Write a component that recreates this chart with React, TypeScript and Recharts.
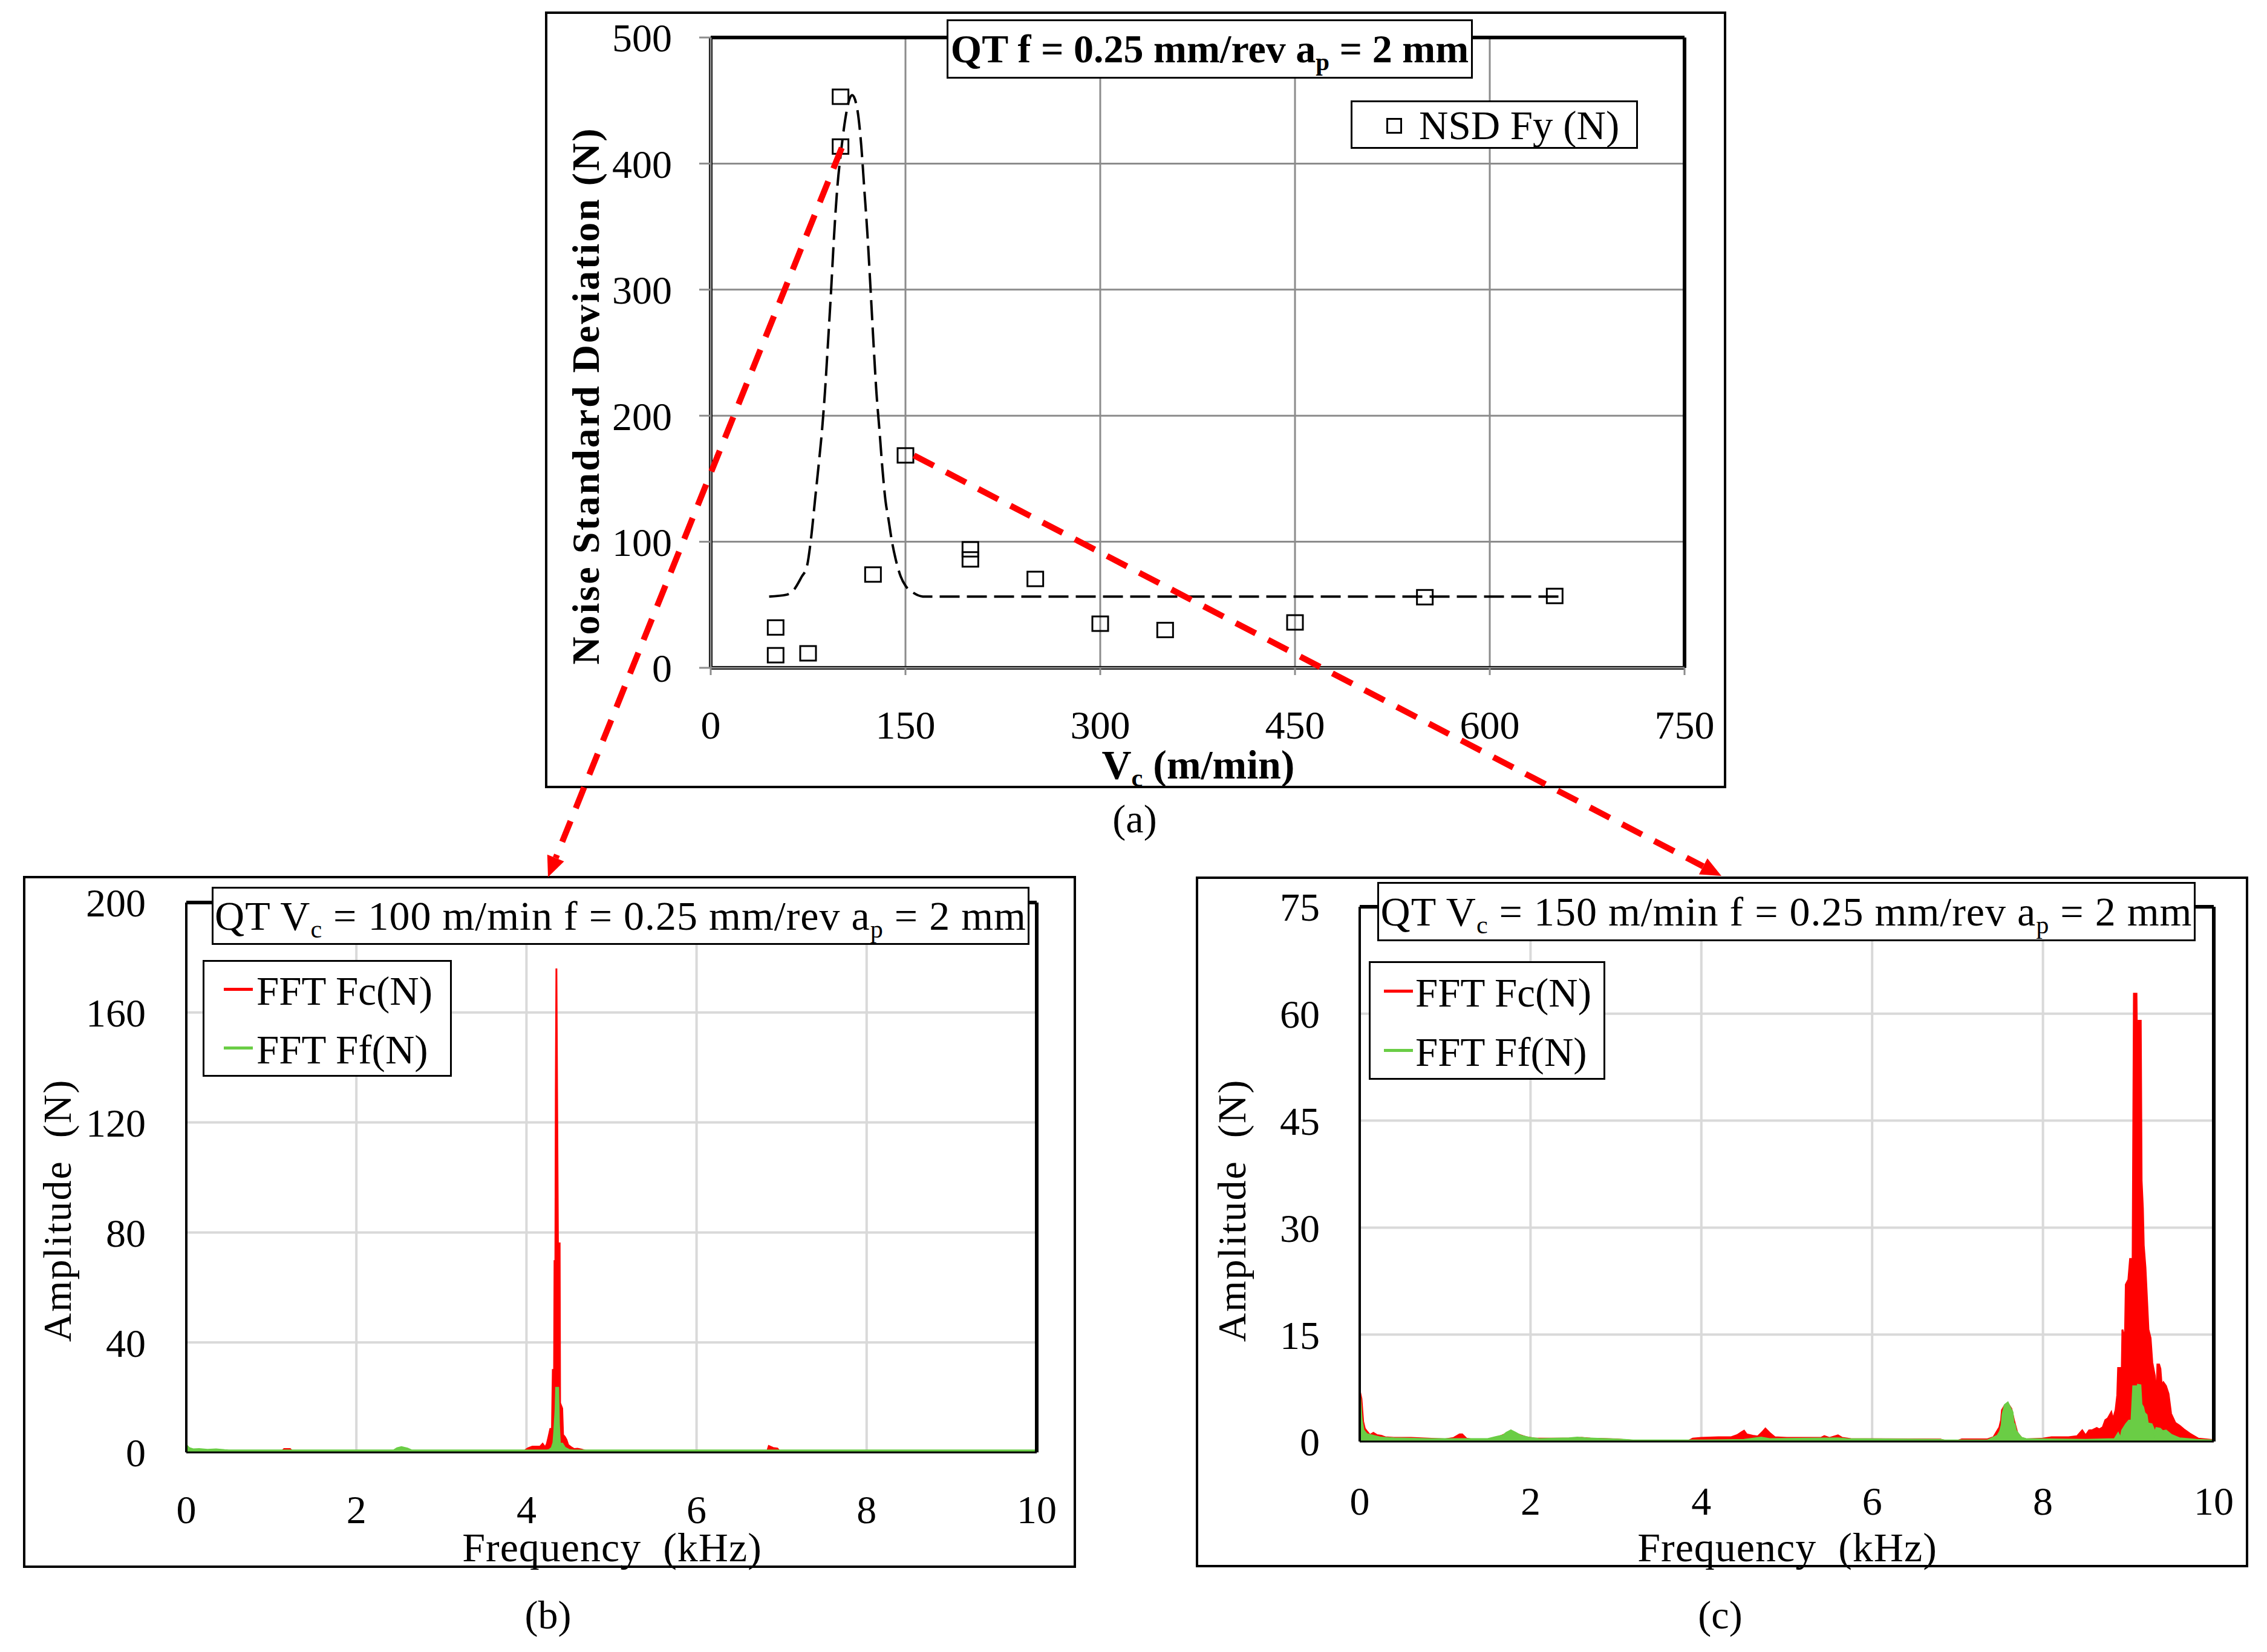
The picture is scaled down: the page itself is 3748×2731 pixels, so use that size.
import React from "react";
import {
  ComposedChart,
  Scatter,
  Line,
  Area,
  XAxis,
  YAxis,
  CartesianGrid,
  ReferenceLine,
} from "recharts";

const FONT = '"Liberation Serif", "Times New Roman", serif';
const RED = "#ff0000";
const GREEN = "#6acd45";

// (a) noise standard deviation of Fy vs cutting speed
const vcTicks = [0, 150, 300, 450, 600, 750];
const nsdTicks = [0, 100, 200, 300, 400, 500];
const nsdVc = [50, 50, 75, 100, 100, 125, 150, 200, 200, 250, 300, 350, 450, 550, 650];
const nsdFy = [32, 10, 11.5, 453, 413.5, 74, 168.5, 94, 86, 70.5, 35, 30, 36, 56, 57];
// dashed fit
const fitVc = [45, 58.5, 63.9, 70.2, 74, 77.2, 80.3, 83.4, 85.7, 88, 90.4, 92.7, 95, 97.4, 100.5, 103.6, 106.7, 109, 112.9, 116, 118.3, 120.6, 123, 125.3, 127.6, 130, 132.3, 134.6, 137, 139.3, 142.4, 146.3, 150.2, 156.4, 164.1, 250, 400, 550, 655];
const fitNsd = [56.5, 58, 61.7, 72.5, 80, 102, 132.7, 163.6, 188, 219, 259, 299, 342.6, 379.6, 410.5, 435, 450.6, 454.3, 443, 413.6, 379.6, 345.7, 302.5, 259, 219, 188, 157.4, 132.7, 117.3, 101.9, 86.4, 72.5, 64.8, 59.3, 56.5, 56.5, 56.5, 56.5, 56.5];

// (b) and (c) FFT spectra, [kHz, N]
const freqTicks = [0, 2, 4, 6, 8, 10];
const ampTicksB = [0, 40, 80, 120, 160, 200];
const ampTicksC = [0, 15, 30, 45, 60, 75];

const fcSpectrumB = [
  [0, 0.8], [0.03, 1.2], [0.1, 0.6], [0.2, 0.5], [0.3, 0.8], [0.4, 0.7], [0.5, 0.3],
  [1.12, 0.3], [1.15, 1.2], [1.22, 1.2], [1.25, 0.3], [3.97, 0.3], [3.99, 0.9], [4.02, 1.5],
  [4.07, 2.1], [4.16, 2.1], [4.19, 3.1], [4.22, 1.8], [4.24, 3.1], [4.26, 5.7], [4.28, 8.5],
  [4.3, 8.5], [4.31, 30], [4.325, 30], [4.33, 69.6], [4.34, 69.6], [4.345, 131], [4.352, 176],
  [4.36, 131], [4.37, 76], [4.39, 76], [4.395, 18], [4.42, 16], [4.43, 6.4], [4.45, 5.7],
  [4.47, 4.6], [4.49, 2.7], [4.52, 2.0], [4.56, 1.2], [4.6, 1.3], [4.65, 1.0], [4.7, 0.5],
  [4.75, 0.3], [6.83, 0.3], [6.85, 2.3], [6.9, 1.6], [6.95, 1.4], [6.98, 0.3], [10, 0.3],
];
const ffSpectrumB = [
  [0, 2.5], [0.03, 1.5], [0.08, 1.0], [0.15, 1.1], [0.25, 0.8], [0.35, 1.0], [0.45, 0.7],
  [0.5, 0.6], [2.44, 0.6], [2.48, 1.4], [2.53, 1.8], [2.6, 1.3], [2.65, 0.6], [4.24, 0.6],
  [4.27, 0.8], [4.3, 1.6], [4.32, 3.5], [4.33, 7.5], [4.345, 15.3], [4.352, 23.4], [4.37, 23.4],
  [4.378, 10.5], [4.39, 3.1], [4.42, 3.1], [4.45, 1.6], [4.5, 0.8], [4.55, 0.6], [10, 0.6],
];
const fcSpectrumC = [
  [0, 7.1], [0.02, 6.0], [0.04, 2.8], [0.06, 1.8], [0.08, 1.5], [0.12, 0.9], [0.16, 1.2],
  [0.2, 0.9], [0.25, 0.8], [0.3, 0.6], [0.4, 0.5], [0.6, 0.5], [0.8, 0.4], [1.0, 0.3],
  [1.1, 0.5], [1.17, 1.0], [1.2, 1.0], [1.25, 0.4], [1.3, 0.3], [1.5, 0.3], [1.6, 0.5],
  [1.7, 1.0], [1.77, 1.5], [1.85, 1.0], [1.95, 0.6], [2.05, 0.4], [2.5, 0.4], [2.6, 0.5],
  [2.7, 0.4], [3.0, 0.3], [3.2, 0.1], [3.85, 0.1], [3.9, 0.4], [4.0, 0.5], [4.2, 0.6],
  [4.35, 0.6], [4.42, 0.9], [4.47, 1.3], [4.5, 1.5], [4.53, 1.0], [4.6, 0.8], [4.66, 0.7],
  [4.72, 1.4], [4.75, 1.8], [4.8, 1.2], [4.86, 0.6], [5.0, 0.5], [5.4, 0.5], [5.44, 0.75],
  [5.5, 0.5], [5.6, 0.85], [5.65, 0.5], [5.75, 0.35], [6.8, 0.28], [6.85, 0.1], [7.0, 0.1],
  [7.05, 0.3], [7.35, 0.3], [7.42, 0.6], [7.46, 1.4], [7.49, 2.0], [7.51, 3.0], [7.52, 4.4],
  [7.55, 5.0], [7.59, 5.3], [7.63, 4.6], [7.66, 3.0], [7.7, 1.2], [7.75, 0.5], [7.8, 0.3],
  [8.0, 0.4], [8.1, 0.6], [8.3, 0.6], [8.4, 0.75], [8.44, 1.3], [8.46, 1.55], [8.5, 0.85],
  [8.54, 1.55], [8.58, 1.6], [8.63, 1.9], [8.66, 1.7], [8.7, 2.0], [8.73, 3.0], [8.76, 3.25],
  [8.8, 4.1], [8.82, 3.1], [8.85, 4.4], [8.87, 6.5], [8.88, 10.3], [8.91, 10.3], [8.92, 7.8],
  [8.93, 15.7], [8.96, 14.4], [8.97, 22], [9.0, 22.7], [9.02, 25.6], [9.05, 25.6],
  [9.065, 62.8], [9.095, 62.8], [9.105, 51.3], [9.115, 51.3], [9.12, 59], [9.145, 59],
  [9.155, 36.6], [9.17, 32.7], [9.18, 27.5], [9.2, 24.4], [9.22, 19.5], [9.235, 15.7],
  [9.26, 14.5], [9.28, 11.1], [9.31, 9.2], [9.33, 5.9], [9.34, 10.8], [9.36, 10.8],
  [9.375, 10.2], [9.39, 7.9], [9.41, 8.3], [9.44, 7.8], [9.47, 6.7], [9.5, 3.9], [9.55, 2.6],
  [9.6, 2.2], [9.65, 1.7], [9.72, 1.1], [9.82, 0.4], [10, 0.2],
];
const ffSpectrumC = [
  [0, 6.5], [0.02, 3.0], [0.04, 1.6], [0.08, 1.0], [0.15, 0.8], [0.25, 0.5], [0.4, 0.4],
  [0.8, 0.3], [1.5, 0.3], [1.6, 0.6], [1.68, 0.8], [1.72, 1.2], [1.77, 1.5], [1.82, 1.2],
  [1.88, 0.8], [1.98, 0.5], [2.1, 0.3], [2.45, 0.4], [2.55, 0.5], [2.65, 0.4], [3.1, 0.2],
  [3.2, 0.1], [4.0, 0.1], [4.5, 0.2], [4.7, 0.5], [4.8, 0.3], [5.6, 0.4], [5.7, 0.3],
  [6.8, 0.2], [6.85, 0.1], [7.35, 0.1], [7.42, 0.5], [7.47, 0.8], [7.5, 1.4], [7.52, 2.3],
  [7.53, 3.8], [7.556, 5.1], [7.587, 5.4], [7.61, 4.8], [7.64, 4.1], [7.653, 2.5],
  [7.665, 2.4], [7.68, 1.55], [7.69, 1.36], [7.72, 0.85], [7.745, 0.5], [7.8, 0.3],
  [8.5, 0.2], [8.84, 0.3], [8.88, 1.07], [8.91, 0.3], [8.93, 1.55], [8.975, 2.4], [9.01, 2.9],
  [9.04, 3.0], [9.06, 7.7], [9.09, 7.7], [9.1, 5.9], [9.115, 7.9], [9.138, 7.85], [9.15, 5.2],
  [9.17, 4.8], [9.185, 4.0], [9.21, 3.7], [9.225, 2.5], [9.27, 2.4], [9.29, 1.84], [9.31, 1.07],
  [9.33, 1.84], [9.37, 1.75], [9.4, 1.4], [9.44, 1.5], [9.5, 0.9], [9.6, 0.4], [9.8, 0.2],
  [10, 0.1],
];

const nsdRows = nsdVc.map((vc, i) => ({ vc, nsd: nsdFy[i] }));
const fitRows = fitVc.map((vc, i) => ({ vc, nsd: fitNsd[i] }));
const toRows = (pts: number[][]) => pts.map(([f, a]) => ({ f, a }));

// layout (page pixels)
const TOP_BOX = { left: 901, top: 19, width: 1953, height: 1284 };
const TOP_M = { left: 74, yw: 200, top: 43, right: 69, bottom: 69, xh: 130 };
const B_BOX = { left: 38, top: 1448, width: 1741, height: 1144 };
const C_BOX = { left: 1977, top: 1449, width: 1740, height: 1142 };

const tickFont = { fontSize: 66, fill: "#000", fontFamily: FONT };

const SquareMarker = (props: any) => {
  const { cx, cy } = props;
  return <rect x={cx - 13} y={cy - 12} width={26} height={24} fill="none" stroke="#000" strokeWidth={3} />;
};

const Sub = ({ children }: { children: React.ReactNode }) => (
  <span style={{ fontSize: "0.62em", position: "relative", top: "0.32em" }}>{children}</span>
);

const Txt = ({ x, y, size = 66, bold = false, rotate = false, spacing = 0, lh = 1, children }: any) => (
  <div
    style={{
      position: "absolute",
      left: x,
      top: y,
      transform: `translate(-50%, -50%)${rotate ? " rotate(-90deg)" : ""}`,
      fontFamily: FONT,
      fontSize: size,
      fontWeight: bold ? 700 : 400,
      letterSpacing: spacing,
      whiteSpace: "nowrap",
      lineHeight: lh,
      color: "#000",
    }}
  >
    {children}
  </div>
);

const Frame = ({ left, top, width, height, border = 3, children, style }: any) => (
  <div
    style={{
      position: "absolute",
      left,
      top,
      width,
      height,
      boxSizing: "border-box",
      border: `${border}px solid #000`,
      background: "#fff",
      fontFamily: FONT,
      ...style,
    }}
  >
    {children}
  </div>
);

function NsdChart() {
  return (
    <div style={{ position: "absolute", left: TOP_BOX.left, top: TOP_BOX.top }}>
      <ComposedChart
        width={TOP_BOX.width}
        height={TOP_BOX.height}
        margin={{ top: TOP_M.top, right: TOP_M.right, bottom: TOP_M.bottom, left: TOP_M.left }}
      >
        <CartesianGrid stroke="#8c8c8c" strokeWidth={3} />
        <ReferenceLine y={500} stroke="#000" strokeWidth={6} />
        <ReferenceLine x={750} stroke="#000" strokeWidth={6} />
        <ReferenceLine y={0} stroke="#000" strokeWidth={6} />
        <ReferenceLine x={0} stroke="#000" strokeWidth={6} />
        <XAxis
          type="number"
          dataKey="vc"
          domain={[0, 750]}
          ticks={vcTicks}
          allowDataOverflow
          height={TOP_M.xh}
          tickSize={12}
          tickMargin={58}
          tickLine={{ stroke: "#8c8c8c", strokeWidth: 3 }}
          axisLine={{ stroke: "#8c8c8c", strokeWidth: 3 }}
          tick={tickFont}
        />
        <YAxis
          type="number"
          domain={[0, 500]}
          ticks={nsdTicks}
          allowDataOverflow
          width={TOP_M.yw}
          tickSize={19}
          tickMargin={45}
          tickLine={{ stroke: "#8c8c8c", strokeWidth: 3 }}
          axisLine={{ stroke: "#8c8c8c", strokeWidth: 3 }}
          tick={tickFont}
        />
        <Line
          data={fitRows}
          dataKey="nsd"
          type="monotone"
          stroke="#000"
          strokeWidth={4}
          strokeDasharray="33 12"
          dot={false}
          activeDot={false}
          isAnimationActive={false}
        />
        <Scatter data={nsdRows} dataKey="nsd" shape={SquareMarker} isAnimationActive={false} />
      </ComposedChart>
    </div>
  );
}

function SpectrumChart({ box, margin, yMax, yTicks, xTickMargin, yTickMargin, fc, ff }: any) {
  return (
    <div style={{ position: "absolute", left: box.left, top: box.top }}>
      <ComposedChart width={box.width} height={box.height} margin={margin}>
        <CartesianGrid stroke="#d9d9d9" strokeWidth={4} />
        <ReferenceLine y={yMax} stroke="#000" strokeWidth={6} />
        <ReferenceLine x={10} stroke="#000" strokeWidth={6} />
        <XAxis
          type="number"
          dataKey="f"
          domain={[0, 10]}
          ticks={freqTicks}
          allowDataOverflow
          height={120}
          tickSize={0}
          tickLine={false}
          tickMargin={xTickMargin}
          axisLine={{ stroke: "#000", strokeWidth: 3 }}
          tick={tickFont}
        />
        <YAxis
          type="number"
          domain={[0, yMax]}
          ticks={yTicks}
          allowDataOverflow
          width={200}
          tickSize={0}
          tickLine={false}
          tickMargin={yTickMargin}
          axisLine={{ stroke: "#000", strokeWidth: 4 }}
          tick={tickFont}
        />
        <Area
          data={toRows(fc)}
          dataKey="a"
          type="linear"
          stroke={RED}
          strokeWidth={3}
          fill={RED}
          fillOpacity={1}
          dot={false}
          activeDot={false}
          isAnimationActive={false}
        />
        <Area
          data={toRows(ff)}
          dataKey="a"
          type="linear"
          stroke={GREEN}
          strokeWidth={4}
          fill={GREEN}
          fillOpacity={1}
          dot={false}
          activeDot={false}
          isAnimationActive={false}
        />
      </ComposedChart>
    </div>
  );
}

const SpectrumLegend = ({ left, top, width, height, lineLeft, textLeft }: any) => (
  <Frame left={left} top={top} width={width} height={height}>
    {[
      { label: "FFT Fc(N)", color: RED, y: 0.25 },
      { label: "FFT Ff(N)", color: GREEN, y: 0.75 },
    ].map((it) => (
      <React.Fragment key={it.label}>
        <div
          style={{
            position: "absolute",
            left: lineLeft,
            top: height * it.y - 5,
            width: 48,
            height: 5,
            background: it.color,
          }}
        />
        <div
          style={{
            position: "absolute",
            left: textLeft,
            top: height * it.y,
            transform: "translateY(-50%)",
            fontSize: 67,
            lineHeight: 1,
            whiteSpace: "nowrap",
          }}
        >
          {it.label}
        </div>
      </React.Fragment>
    ))}
  </Frame>
);

// dashed red pointer arrows from panel (a) to panels (b) and (c)
const plotLeft = TOP_BOX.left + TOP_M.left + TOP_M.yw;
const plotRight = TOP_BOX.left + TOP_BOX.width - TOP_M.right;
const plotTop = TOP_BOX.top + TOP_M.top;
const plotBottom = TOP_BOX.top + TOP_BOX.height - TOP_M.bottom - TOP_M.xh;
const px = (vc: number) => plotLeft + (vc / 750) * (plotRight - plotLeft);
const py = (v: number) => plotBottom - (v / 500) * (plotBottom - plotTop);

const Arrow = ({ x1, y1, x2, y2 }: any) => {
  const a = Math.atan2(y2 - y1, x2 - x1);
  const len = 34;
  const hw = 15;
  const bx = x2 - len * Math.cos(a);
  const by = y2 - len * Math.sin(a);
  const nx = -Math.sin(a) * hw;
  const ny = Math.cos(a) * hw;
  return (
    <g>
      <line x1={x1} y1={y1} x2={bx} y2={by} stroke={RED} strokeWidth={10} strokeDasharray="37 23" />
      <polygon points={`${x2},${y2} ${bx + nx},${by + ny} ${bx - nx},${by - ny}`} fill={RED} />
    </g>
  );
};

const boxCenter = { display: "flex", alignItems: "center", justifyContent: "center" };

export default function App() {
  return (
    <div style={{ position: "absolute", left: 0, top: 0, width: 3748, height: 2731, background: "#fff", overflow: "hidden" }}>
      {/* panel (a) */}
      <Frame left={TOP_BOX.left} top={TOP_BOX.top} width={TOP_BOX.width} height={TOP_BOX.height} border={4} />
      <NsdChart />
      <Frame left={1565} top={32} width={870} height={98} style={boxCenter}>
        <span style={{ fontSize: 66, fontWeight: 700, whiteSpace: "nowrap", lineHeight: 1 }}>
          QT f = 0.25 mm/rev a<Sub>p</Sub> = 2 mm
        </span>
      </Frame>
      <Frame left={2233} top={166} width={475} height={80}>
        <div style={{ position: "absolute", left: 56, top: 26, width: 20, height: 20, border: "3px solid #000" }} />
        <div style={{ position: "absolute", left: 110, top: 38, transform: "translateY(-50%)", fontSize: 67, lineHeight: 1, whiteSpace: "nowrap" }}>
          NSD Fy (N)
        </div>
      </Frame>
      <Txt x={969} y={654} size={64} bold rotate spacing={3}>
        Noise Standard Deviation (N)
      </Txt>
      <Txt x={1981} y={1264} size={68} bold lh={0.8}>
        V<Sub>c</Sub> (m/min)
      </Txt>
      <Txt x={1876} y={1354} size={66} lh={0.8}>(a)</Txt>

      {/* panel (b) */}
      <Frame left={B_BOX.left} top={B_BOX.top} width={B_BOX.width} height={B_BOX.height} border={4} />
      <SpectrumChart
        box={B_BOX}
        margin={{ top: 44, right: 65, bottom: 71, left: 70 }}
        yMax={200}
        yTicks={ampTicksB}
        xTickMargin={70}
        yTickMargin={67}
        fc={fcSpectrumB}
        ff={ffSpectrumB}
      />
      <Frame left={350} top={1466} width={1352} height={96} style={boxCenter}>
        <span style={{ fontSize: 68, letterSpacing: 1, whiteSpace: "nowrap", lineHeight: 1 }}>
          QT V<Sub>c</Sub> = 100 m/min f = 0.25 mm/rev a<Sub>p</Sub> = 2 mm
        </span>
      </Frame>
      <SpectrumLegend left={335} top={1587} width={412} height={193} lineLeft={32} textLeft={86} />
      <Txt x={95} y={2001} size={66} rotate spacing={2}>
        Amplitude&nbsp; (N)
      </Txt>
      <Txt x={1012} y={2558} size={68} spacing={1} lh={0.8}>
        Frequency&nbsp; (kHz)
      </Txt>
      <Txt x={906} y={2670} size={66}>(b)</Txt>

      {/* panel (c) */}
      <Frame left={C_BOX.left} top={C_BOX.top} width={C_BOX.width} height={C_BOX.height} border={4} />
      <SpectrumChart
        box={C_BOX}
        margin={{ top: 50, right: 57, bottom: 88, left: 71 }}
        yMax={75}
        yTicks={ampTicksC}
        xTickMargin={74}
        yTickMargin={66}
        fc={fcSpectrumC}
        ff={ffSpectrumC}
      />
      <Frame left={2277} top={1458} width={1353} height={98} style={boxCenter}>
        <span style={{ fontSize: 68, letterSpacing: 1, whiteSpace: "nowrap", lineHeight: 1 }}>
          QT V<Sub>c</Sub> = 150 m/min f = 0.25 mm/rev a<Sub>p</Sub> = 2 mm
        </span>
      </Frame>
      <SpectrumLegend left={2263} top={1589} width={391} height={196} lineLeft={22} textLeft={74} />
      <Txt x={2037} y={2001} size={66} rotate spacing={2}>
        Amplitude&nbsp; (N)
      </Txt>
      <Txt x={2955} y={2558} size={68} spacing={1} lh={0.8}>
        Frequency&nbsp; (kHz)
      </Txt>
      <Txt x={2844} y={2670} size={66}>(c)</Txt>

      {/* pointer arrows */}
      <svg width={3748} height={2731} style={{ position: "absolute", left: 0, top: 0, pointerEvents: "none" }}>
        <Arrow x1={px(100) + 2} y1={py(413.5) + 2} x2={906} y2={1450} />
        <Arrow x1={px(150) + 14} y1={py(168.5)} x2={2846} y2={1448} />
      </svg>
    </div>
  );
}
